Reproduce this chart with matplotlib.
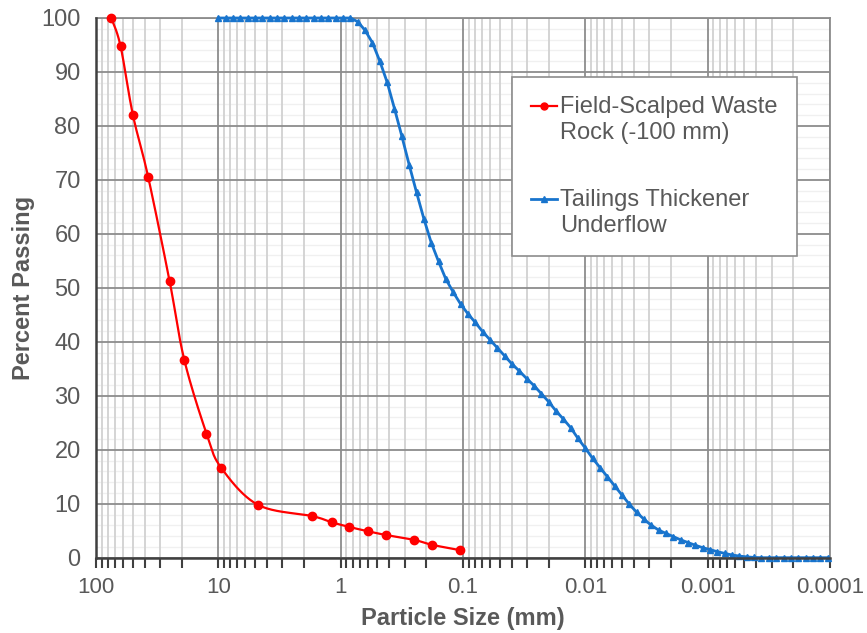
import numpy as np
import matplotlib
matplotlib.use("Agg")
import matplotlib.pyplot as plt
from matplotlib.ticker import FixedLocator, FixedFormatter, NullFormatter
from matplotlib.legend_handler import HandlerLine2D

# ---------------- data ----------------
rock_size = [75, 63, 50, 37.5, 25, 19, 12.5, 9.5, 4.75, 1.7, 1.18, 0.85, 0.6, 0.425, 0.25, 0.18, 0.106]
rock_pass = [100, 94.8, 82.1, 70.6, 51.2, 36.7, 23.0, 16.7, 9.8, 7.7, 6.55, 5.7, 4.9, 4.2, 3.3, 2.4, 1.4]

tail_size = [10.0, 8.710, 7.586, 6.607, 5.754, 5.012, 4.365, 3.802, 3.311, 2.884,
             2.512, 2.188, 1.905, 1.660, 1.445, 1.259, 1.096, 0.9550, 0.8318, 0.7244,
             0.6310, 0.5495, 0.4786, 0.4169, 0.3631, 0.3162, 0.2754, 0.2399, 0.2089, 0.1820,
             0.1585, 0.1380, 0.1202, 0.1047, 0.09120, 0.07943, 0.06918, 0.06026, 0.05248, 0.04571,
             0.03981, 0.03467, 0.03020, 0.02630, 0.02291, 0.01995, 0.01738, 0.01514, 0.01318, 0.01148,
             0.01000, 0.008710, 0.007586, 0.006607, 0.005754, 0.005012, 0.004365, 0.003802, 0.003311, 0.002884,
             0.002512, 0.002188, 0.001905, 0.001660, 0.001445, 0.001259, 0.001096, 0.0009550, 0.0008318, 0.0007244,
             0.0006310, 0.0005495, 0.0004786, 0.0004169, 0.0003631, 0.0003162, 0.0002754, 0.0002399, 0.0002089, 0.0001820,
             0.0001585, 0.0001380, 0.0001202, 0.0001047]
tail_pass = [100, 100, 100, 100, 100, 100, 100, 100, 100, 100,
             100, 100, 100, 100, 100, 100, 100, 100, 100, 99.3,
             97.7, 95.4, 92.0, 88.1, 83.2, 78.1, 72.8, 67.7, 62.8, 58.4,
             54.9, 51.6, 49.2, 47.0, 45.2, 43.6, 41.9, 40.4, 38.9, 37.4,
             35.9, 34.6, 33.2, 31.9, 30.4, 28.9, 27.2, 25.7, 24.1, 22.1,
             20.3, 18.4, 16.7, 15.0, 13.3, 11.6, 9.9, 8.4, 7.1, 6.0,
             5.1, 4.5, 3.9, 3.3, 2.8, 2.3, 1.85, 1.5, 1.1, 0.8,
             0.5, 0.3, 0.15, 0.05, 0, 0, 0, 0, 0, 0,
             0, 0, 0, 0]

series_labels = ["Field-Scalped Waste\nRock (-100 mm)", "Tailings Thickener\nUnderflow"]
x_ticks = [100, 10, 1, 0.1, 0.01, 0.001, 0.0001]
x_tick_labels = ["100", "10", "1", "0.1", "0.01", "0.001", "0.0001"]
y_ticks = [0, 10, 20, 30, 40, 50, 60, 70, 80, 90, 100]
y_minor = [2, 4, 6, 8, 12, 14, 16, 18, 22, 24, 26, 28, 32, 34, 36, 38, 42, 44, 46, 48,
           52, 54, 56, 58, 62, 64, 66, 68, 72, 74, 76, 78, 82, 84, 86, 88, 92, 94, 96, 98]
x_label = "Particle Size (mm)"
y_label = "Percent Passing"

RED = "#FF0000"
BLUE = "#1874CD"
TXT = "#595959"

plt.rcParams['font.family'] = ['Liberation Sans', 'DejaVu Sans']


def smooth(xs, ys, n=24):
    """Excel-like smoothed line (Catmull-Rom) in log-x / linear-y space."""
    u = np.log10(np.asarray(xs, float)) * 122.3
    v = np.asarray(ys, float) * 5.4
    P = np.column_stack([u, v])
    P = np.vstack([P[0], P, P[-1]])
    out = []
    for i in range(1, len(P) - 2):
        p0, p1, p2, p3 = P[i - 1], P[i], P[i + 1], P[i + 2]
        c1 = p1 + (p2 - p0) / 6.0
        c2 = p2 - (p3 - p1) / 6.0
        t = np.linspace(0, 1, n)[:, None]
        b = ((1 - t) ** 3) * p1 + 3 * ((1 - t) ** 2) * t * c1 + 3 * (1 - t) * t ** 2 * c2 + t ** 3 * p2
        out.append(b if i == 1 else b[1:])
    B = np.vstack(out)
    return 10 ** (B[:, 0] / 122.3), B[:, 1] / 5.4


class FirstLineHandler(HandlerLine2D):
    """Place the legend handle at the level of the first text line."""
    def __init__(self, shift, **kw):
        super().__init__(**kw)
        self.shift = shift

    def create_artists(self, *args, **kwargs):
        arts = super().create_artists(*args, **kwargs)
        for a in arts:
            a.set_ydata(np.asarray(a.get_ydata(), float) + self.shift)
        return arts


W, H = 867, 633
fig = plt.figure(figsize=(W / 100, H / 100), dpi=100)
L, R, T, Bt = 96, 830, 18, 557.7
ax = fig.add_axes([L / W, 1 - Bt / H, (R - L) / W, (Bt - T) / H])

ax.set_xscale('log')
ax.set_xlim(100, 0.0001)
ax.set_ylim(0, 100)

ax.set_axisbelow(True)
ax.xaxis.set_major_locator(FixedLocator(x_ticks))
ax.xaxis.set_major_formatter(FixedFormatter(x_tick_labels))
minor = [m * d for d in [10, 1, 0.1, 0.01, 0.001, 0.0001] for m in range(2, 10)]
ax.xaxis.set_minor_locator(FixedLocator(minor))
ax.xaxis.set_minor_formatter(NullFormatter())
ax.yaxis.set_major_locator(FixedLocator(y_ticks))

# minor grid drawn underneath the major grid
for yv in y_minor:
    ax.axhline(yv, color='#f0f0f0', lw=1.0, zorder=0.1)
for xv in minor:
    ax.axvline(xv, color='#d4d4d4', lw=1.4, zorder=0.2)
ax.grid(which='major', color='#8c8c8c', lw=1.3)

for s in ['top', 'right']:
    ax.spines[s].set_color('#8c8c8c')
    ax.spines[s].set_linewidth(1.3)
for s in ['left', 'bottom']:
    ax.spines[s].set_color('#404040')
    ax.spines[s].set_linewidth(1.8)
    ax.spines[s].set_zorder(5)

ax.tick_params(axis='x', which='both', direction='out', length=7, width=1.5,
               color='#404040', labelsize=16, labelcolor=TXT, pad=7)
ax.tick_params(axis='y', which='both', length=0, labelsize=17, labelcolor=TXT, pad=11)

# data
sx, sy = smooth(rock_size, rock_pass)
ax.plot(sx, sy, color=RED, lw=1.6, clip_on=False, zorder=3)
ax.plot(rock_size, rock_pass, ls='none', marker='o', ms=6, color=RED, clip_on=False, zorder=4)
ax.plot(tail_size, tail_pass, color=BLUE, lw=2.0, marker='^', ms=5, clip_on=False, zorder=3)

# legend
h1, = ax.plot([], [], color=RED, lw=1.6, marker='o', ms=5)
h2, = ax.plot([], [], color=BLUE, lw=2.0, marker='^', ms=5)
leg = ax.legend([h1, h2], series_labels, loc='upper left',
                bbox_to_anchor=(512 / W, 1 - 77 / H), bbox_transform=fig.transFigure,
                borderaxespad=0, frameon=True, fancybox=False, framealpha=1,
                edgecolor='#8c8c8c', fontsize=17, handlelength=1.1, handletextpad=0.15,
                labelspacing=1.9, borderpad=0.8,
                handler_map={h1: FirstLineHandler(10.0), h2: FirstLineHandler(10.0)})
leg.get_frame().set_linewidth(1.2)
for t in leg.get_texts():
    t.set_color(TXT)
    t.set_linespacing(1.25)

ax.set_xlabel(x_label, fontsize=17, fontweight='bold', color=TXT, va='top')
ax.xaxis.set_label_coords(0.5, -(607 - Bt) / (Bt - T))
ax.set_ylabel(y_label, fontsize=17, fontweight='bold', color=TXT)
ax.yaxis.set_label_coords(-(96 - 35) / (R - L), 0.5)

fig.savefig('out.png', dpi=100)
